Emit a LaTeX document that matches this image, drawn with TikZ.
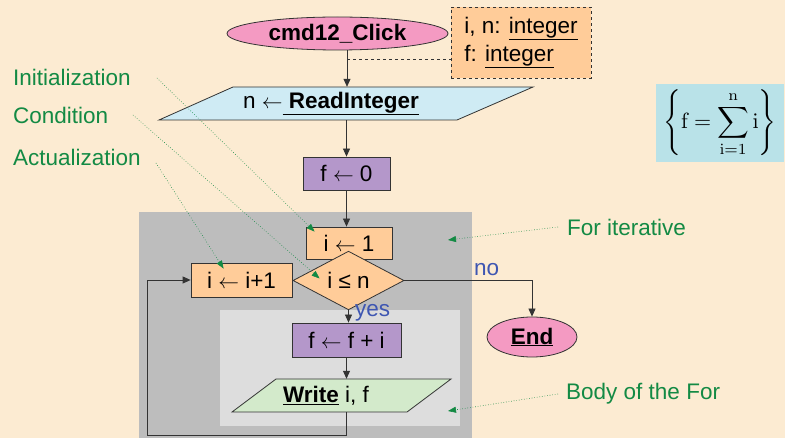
\documentclass[tikz,border=0pt]{standalone}
\usepackage[no-math]{fontspec}
\usepackage{graphicx}
\setmainfont{Liberation Sans}
\usetikzlibrary{shapes.geometric,arrows.meta}
\definecolor{bgc}{HTML}{FCEBD2}
\definecolor{pinkc}{HTML}{F49AC2}
\definecolor{orangec}{HTML}{FFCC99}
\definecolor{bluec}{HTML}{CFEBF4}
\definecolor{purplec}{HTML}{B497CA}
\definecolor{greenc}{HTML}{D3EACB}
\definecolor{darkreg}{HTML}{BDBDBD}
\definecolor{lightreg}{HTML}{DDDDDD}
\definecolor{formc}{HTML}{B9E2E8}
\definecolor{notec}{HTML}{138A44}
\definecolor{labc}{HTML}{3E56B2}
\definecolor{linec}{HTML}{333333}
\begin{document}
\begin{tikzpicture}[x=1pt,y=-1pt,
  font=\fontsize{22.5}{28}\selectfont,
  box/.style={draw=linec,line width=0.8pt,minimum height=#1,inner sep=0pt},
  flow/.style={draw=linec,line width=0.8pt,-{Triangle[length=8pt,width=7pt]}},
  note/.style={draw=notec,dotted,line width=0.6pt,-{Triangle[length=8pt,width=6pt]}},
  notetext/.style={text=notec,anchor=west,inner sep=0pt},
  lab/.style={text=labc,inner sep=0pt}]
\fill[bgc] (0,0) rectangle (785,438);
\useasboundingbox (0,0) rectangle (785,438);
% regions
\fill[darkreg] (139,212) rectangle (472,438);
\fill[lightreg] (220,310) rectangle (460,426);
% start
\node[box=33pt,ellipse,fill=pinkc,minimum width=221pt] (start) at (337.5,33.5) {\textbf{cmd12\_Click}};
\node[draw=linec,dashed,line width=0.7pt,fill=orangec,minimum width=140pt,minimum height=71pt,inner sep=0pt,align=left] (decl) at (521,42.5) {i, n: \underline{integer}\\f: \underline{integer}};
\coordinate (spine) at (347,59);
\draw[draw=linec,dashed,line width=0.7pt] (spine) -- (spine -| decl.west);
% read
\draw[draw=linec,line width=0.8pt,fill=bluec] (159,120) -- (233,87) -- (533,87) -- (457,120) -- cycle;
\node[minimum height=33pt,inner sep=0pt] (read) at (331,103.5) {n $\leftarrow$\underline{\ \textbf{ReadInteger}}};
% f<-0
\node[box=33pt,fill=purplec,minimum width=87pt] (f0) at (346.5,173.5) {f $\leftarrow$ 0};
% loop
\node[box=32pt,fill=orangec,minimum width=86pt] (i1) at (349,243) {i $\leftarrow$ 1};
\node[box=41pt,diamond,fill=orangec,minimum width=111pt] (cond) at (348.5,280.5) {i ≤ n};
\node[box=34pt,fill=orangec,minimum width=101pt] (inc) at (241.5,280) {i $\leftarrow$ i+1};
\node[box=34pt,fill=purplec,minimum width=109pt] (ff) at (346.5,340) {f $\leftarrow$ f + i};
\draw[draw=linec,line width=0.8pt,fill=greenc] (232,412) -- (276,379) -- (451,379) -- (407,412) -- cycle;
\node[minimum height=33pt,inner sep=0pt] (wr) at (326,395.5) {\underline{\textbf{Write}} i, f};
\node[box=40pt,ellipse,fill=pinkc,minimum width=90pt] (end) at (532,337) {\underline{\textbf{End}}};
% connectors
\draw[flow] (spine |- start.south) -- (spine |- read.north);
\draw[flow] (f0.north |- read.south) -- (f0.north);
\draw[flow] (f0.south) -- (f0.south |- i1.north);
\draw[flow] (cond.south) -- (cond.south |- ff.north);
\node[lab,anchor=west] (yes) at (355,313) {yes};
\draw[flow] (ff.south) -- (ff.south |- wr.north);
\coordinate (lb) at (147,435);
\draw[flow] (ff.south |- wr.south) |- (lb) |- (inc.west);
\draw[flow] (cond.east) -| (end.north);
\node[lab,anchor=west] (no) at (474,270) {no};
% formula
\node[fill=formc,minimum width=128pt,minimum height=78pt,inner sep=0pt] (form) at (720,123)
  {\fontsize{10}{12}\selectfont\scalebox{2.2}[2.2]{$\displaystyle\left\{\mathrm{f}=\sum_{\mathrm{i}=1}^{\mathrm{n}}\mathrm{i}\right\}$}};
% notes
\node[notetext] (tinit) at (13,77) {Initialization};
\node[notetext] (tcond) at (13,115) {Condition};
\node[notetext] (tact) at (13,157) {Actualization};
\node[notetext] (tfor) at (567,227) {For iterative};
\node[notetext] (tbody) at (566,394) {Body of the For};
\coordinate (ninit) at (157,78);
\coordinate (ncond) at (133,115);
\coordinate (nact) at (156,163);
\draw[note] (ninit) -- ([shift={(9,5)}]i1.north west);
\draw[note] (ncond) -- ([shift={(27,-2)}]cond.west);
\draw[note] (nact) -- ([shift={(33,6)}]inc.north west);
\draw[note] ([xshift=-9pt]tfor.west) -- (448,240);
\draw[note] ([xshift=-8pt]tbody.west) -- (448,411);
\end{tikzpicture}
\end{document}
